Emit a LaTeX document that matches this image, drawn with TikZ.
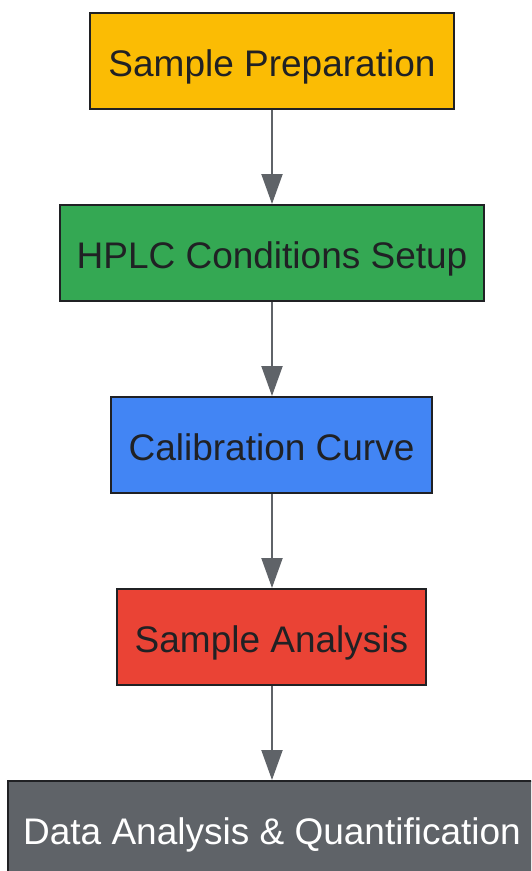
\documentclass[tikz,border=0pt]{standalone}
\usepackage{fontspec}
\setmainfont{Liberation Sans}
\usetikzlibrary{arrows.meta}
\definecolor{cyel}{HTML}{FBBC04}
\definecolor{cgrn}{HTML}{34A853}
\definecolor{cblu}{HTML}{4285F4}
\definecolor{cred}{HTML}{EA4335}
\definecolor{cgry}{HTML}{5F6368}
\definecolor{cdark}{HTML}{202124}
\tikzset{
  stepbox/.style={draw=cdark, line width=2pt, inner sep=0pt, anchor=north west,
    font=\fontsize{37}{42}\selectfont, text=cdark, text height=30pt, text depth=0pt},
  flow/.style={draw=cgry, line width=2pt, -{Triangle[length=30pt,width=21pt]}}
}
\begin{document}
\begin{tikzpicture}[x=1pt,y=1pt]
\useasboundingbox (0,0) rectangle (531,-871);
\clip (0,0) rectangle (531,-871);
\fill[white] (0,0) rectangle (531,-871);
\node[stepbox, fill=cyel, minimum width=364pt, minimum height=96pt] (a) at (89,-12) {Sample Preparation};
\node[stepbox, fill=cgrn, minimum width=424pt, minimum height=96pt] (b) at (59,-204) {HPLC Conditions Setup};
\node[stepbox, fill=cblu, minimum width=321pt, minimum height=96pt] (c) at (110,-396) {Calibration Curve};
\node[stepbox, fill=cred, minimum width=309pt, minimum height=96pt] (d) at (116,-588) {Sample Analysis};
\node[stepbox, fill=cgry, text=white, minimum width=528pt, minimum height=96pt] (e) at (7,-780) {Data Analysis \& Quantification};
\draw[flow] (a.south) -- (a.south |- b.north);
\draw[flow] (b.south) -- (a.south |- c.north);
\draw[flow] (a.south |- c.south) -- (a.south |- d.north);
\draw[flow] (a.south |- d.south) -- (a.south |- e.north);
\end{tikzpicture}
\end{document}
